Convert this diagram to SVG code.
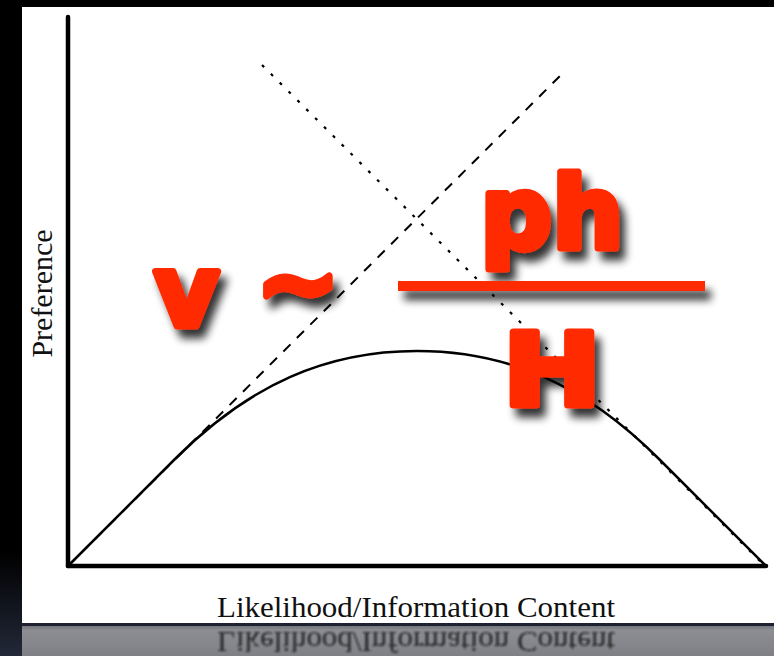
<svg xmlns="http://www.w3.org/2000/svg" width="774" height="656" viewBox="0 0 774 656">
<style>
.ax{stroke:#000;stroke-width:4.5;stroke-linecap:round;fill:none}
.crv{stroke:#000;stroke-width:2.5;fill:none}
.dash{stroke:#000;stroke-width:2;fill:none;stroke-dasharray:10 9}
.dot{stroke:#000;stroke-width:2.2;fill:none;stroke-dasharray:3 9.5}
.lbl{font-family:"Liberation Serif","Times New Roman",serif;font-size:30px;fill:#111}
.red{font-family:"DejaVu Sans",sans-serif;font-weight:bold;font-size:100px;fill:#ff2a00;stroke:#ff2a00;stroke-width:7;stroke-linejoin:round}
</style>
<defs>
<linearGradient id="side" x1="0" y1="0" x2="0" y2="1">
<stop offset="0" stop-color="#000"/>
<stop offset="0.84" stop-color="#000"/>
<stop offset="1" stop-color="#222838"/>
</linearGradient>
<linearGradient id="refl" x1="0" y1="0" x2="0" y2="1">
<stop offset="0" stop-color="#74767c"/>
<stop offset="0.15" stop-color="#8c8e93"/>
<stop offset="1" stop-color="#7e8086"/>
</linearGradient>
<filter id="shadow" x="-20%" y="-20%" width="150%" height="160%">
<feGaussianBlur in="SourceAlpha" stdDeviation="4.5"/>
<feOffset dx="6" dy="9" result="b"/>
<feComponentTransfer><feFuncA type="linear" slope="0.8"/></feComponentTransfer>
<feMerge><feMergeNode/><feMergeNode in="SourceGraphic"/></feMerge>
</filter>
<filter id="soft"><feGaussianBlur stdDeviation="0.8"/></filter>
</defs>
<rect x="0" y="0" width="774" height="656" fill="#000"/>
<rect x="0" y="0" width="22" height="656" fill="url(#side)"/>
<rect x="22" y="7" width="752" height="617" fill="#fff"/>
<rect x="22" y="623" width="752" height="3" fill="#1e2230"/>
<rect x="22" y="626" width="752" height="30" fill="url(#refl)"/>
<g id="reflection" filter="url(#soft)" opacity="0.8">
<text class="lbl" x="416" y="-632" text-anchor="middle" textLength="398" lengthAdjust="spacingAndGlyphs" transform="scale(1,-1)" fill="#2a3048">Likelihood/Information Content</text>
</g>
<g id="axes">
<line class="ax" x1="68" y1="17" x2="68" y2="566"/>
<line class="ax" x1="68" y1="566" x2="766" y2="566"/>
</g>
<g id="connectors">
<line class="dash" x1="68" y1="566" x2="566" y2="70"/>
<line class="dot" x1="262" y1="65" x2="766" y2="567"/>
<path id="curve" class="crv" d="M68,566 L175,459 C250,384 327,351 417,351 C507,351 584,384 659,459 L766,566"/>
</g>
<g id="labels">
<text class="lbl" x="416" y="617" text-anchor="middle" textLength="398" lengthAdjust="spacingAndGlyphs">Likelihood/Information Content</text>
<text class="lbl" transform="translate(52,293.5) rotate(-90)" text-anchor="middle">Preference</text>
</g>
<g id="formula" filter="url(#shadow)">
<text class="red" x="154" y="326">v <tspan x="256" dy="-9">~</tspan></text>
<rect x="398" y="281" width="307" height="10" fill="#ff2a00"/>
<text class="red" x="552" y="248" text-anchor="middle">ph</text>
<text class="red" x="552" y="405" text-anchor="middle" textLength="98" lengthAdjust="spacingAndGlyphs">H</text>
</g>
</svg>
